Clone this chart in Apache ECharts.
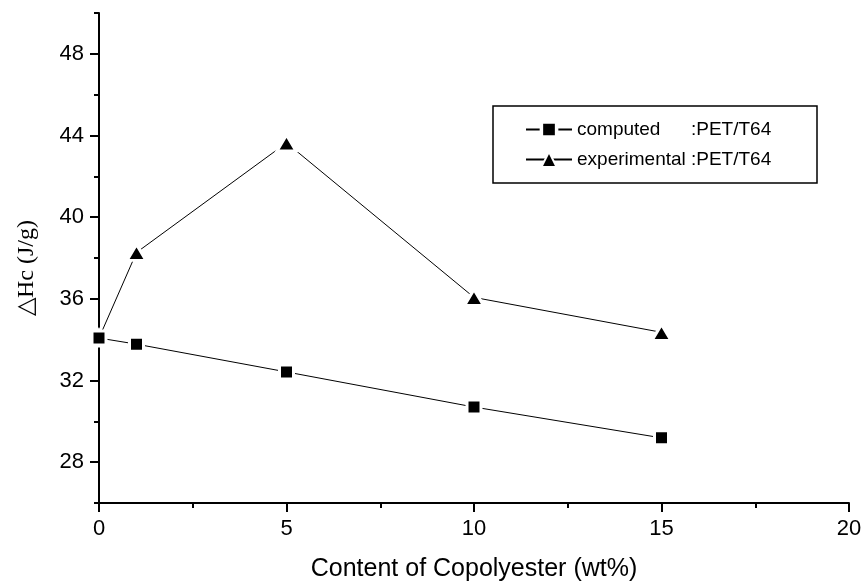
<!DOCTYPE html>
<html>
<head>
<meta charset="utf-8">
<script src="https://cdn.jsdelivr.net/npm/echarts@6/dist/echarts.min.js"></script>
<style>
  html, body { margin: 0; padding: 0; background: #fff; }
  #chart { width: 862px; height: 584px; }
</style>
</head>
<body>
<div id="chart"></div>
<script>
// Crystallization enthalpy of PET/T64 blends vs. copolyester content
const copolyesterContent = [0, 1, 5, 10, 15];
const computedHc = [34.08, 33.78, 32.42, 30.70, 29.19];
const experimentalHc = [34.08, 38.27, 43.64, 36.07, 34.36];
const seriesNames = ['computed', 'experimental'];
const blendLabel = ':PET/T64';
const yMajorTicks = [28, 32, 36, 40, 44, 48];
const yMinorTicks = [26, 30, 34, 38, 42, 46, 50];

const sans = '"Liberation Sans", Arial, sans-serif';
const serif = '"Liberation Serif", "Times New Roman", serif';

function pairs(ys) {
  return copolyesterContent.map((x, i) => [x, ys[i]]);
}

const chart = echarts.init(document.getElementById('chart'), null, { renderer: 'canvas' });

// white outline around markers leaves the small gap where the line meets a symbol
const markerStyle = { color: '#000', borderColor: '#fff', borderWidth: 3 };

chart.setOption({
  animation: false,
  backgroundColor: '#fff',
  grid: { left: 99, right: 13, top: 13, bottom: 81, containLabel: false, outerBoundsMode: 'none' },
  legend: {
    orient: 'vertical',
    left: 525,
    top: 120,
    padding: 0,
    itemGap: 11,
    itemWidth: 46,
    itemHeight: 19,
    data: [
      { name: seriesNames[0], itemStyle: { borderColor: '#fff', borderWidth: 3.5 } },
      { name: seriesNames[1], itemStyle: { borderColor: '#fff', borderWidth: 2 } }
    ],
    formatter: name => `{n|${name}}{s|${blendLabel}}`,
    textStyle: {
      color: '#000',
      fontFamily: sans,
      fontSize: 19,
      rich: {
        n: { width: 114, fontSize: 19, fontFamily: sans, color: '#000' },
        s: { fontSize: 19, fontFamily: sans, color: '#000' }
      }
    }
  },
  graphic: [{
    type: 'rect',
    shape: { x: 493, y: 106, width: 324, height: 77 },
    style: { fill: 'none', stroke: '#000', lineWidth: 1.5 },
    z: 1
  }],
  xAxis: {
    type: 'value',
    min: 0,
    max: 20,
    interval: 5,
    name: 'Content of Copolyester (wt%)',
    nameLocation: 'middle',
    nameGap: 54,
    nameTextStyle: { fontFamily: sans, fontSize: 25, color: '#000' },
    axisLine: { show: true, lineStyle: { color: '#000', width: 2 } },
    axisTick: { show: true, inside: false, length: 9, lineStyle: { color: '#000', width: 2 } },
    minorTick: { show: true, splitNumber: 2, length: 5, lineStyle: { color: '#000', width: 2 } },
    axisLabel: { color: '#000', fontFamily: sans, fontSize: 22, margin: 15 },
    splitLine: { show: false },
    minorSplitLine: { show: false }
  },
  yAxis: [{
    type: 'value',
    min: 26,
    max: 50,
    interval: 2,
    position: 'left',
    name: '\u25B3Hc (J/g)',
    nameLocation: 'middle',
    nameGap: 60,
    nameRotate: 90,
    nameTextStyle: { fontFamily: serif, fontSize: 24, color: '#000', padding: [0, 20, 0, 0] },
    axisLine: { show: true, lineStyle: { color: '#000', width: 2 } },
    axisTick: { show: true, inside: false, length: 9, customValues: yMajorTicks, lineStyle: { color: '#000', width: 2 } },
    axisLabel: { color: '#000', fontFamily: sans, fontSize: 22, margin: 15, customValues: yMajorTicks },
    splitLine: { show: false }
  }, {
    type: 'value',
    min: 26,
    max: 50,
    interval: 2,
    position: 'left',
    axisLine: { show: false },
    axisTick: { show: true, inside: false, length: 5, customValues: yMinorTicks, lineStyle: { color: '#000', width: 2 } },
    axisLabel: { show: false },
    splitLine: { show: false }
  }],
  series: [{
    name: seriesNames[0],
    type: 'line',
    data: pairs(computedHc),
    symbol: 'rect',
    symbolSize: 14,
    z: 4,
    lineStyle: { color: '#000', width: 1 },
    itemStyle: markerStyle
  }, {
    name: seriesNames[1],
    type: 'line',
    data: pairs(experimentalHc),
    symbol: 'triangle',
    symbolSize: [19, 16],
    z: 3,
    lineStyle: { color: '#000', width: 1 },
    itemStyle: markerStyle
  }]
});
</script>
</body>
</html>
